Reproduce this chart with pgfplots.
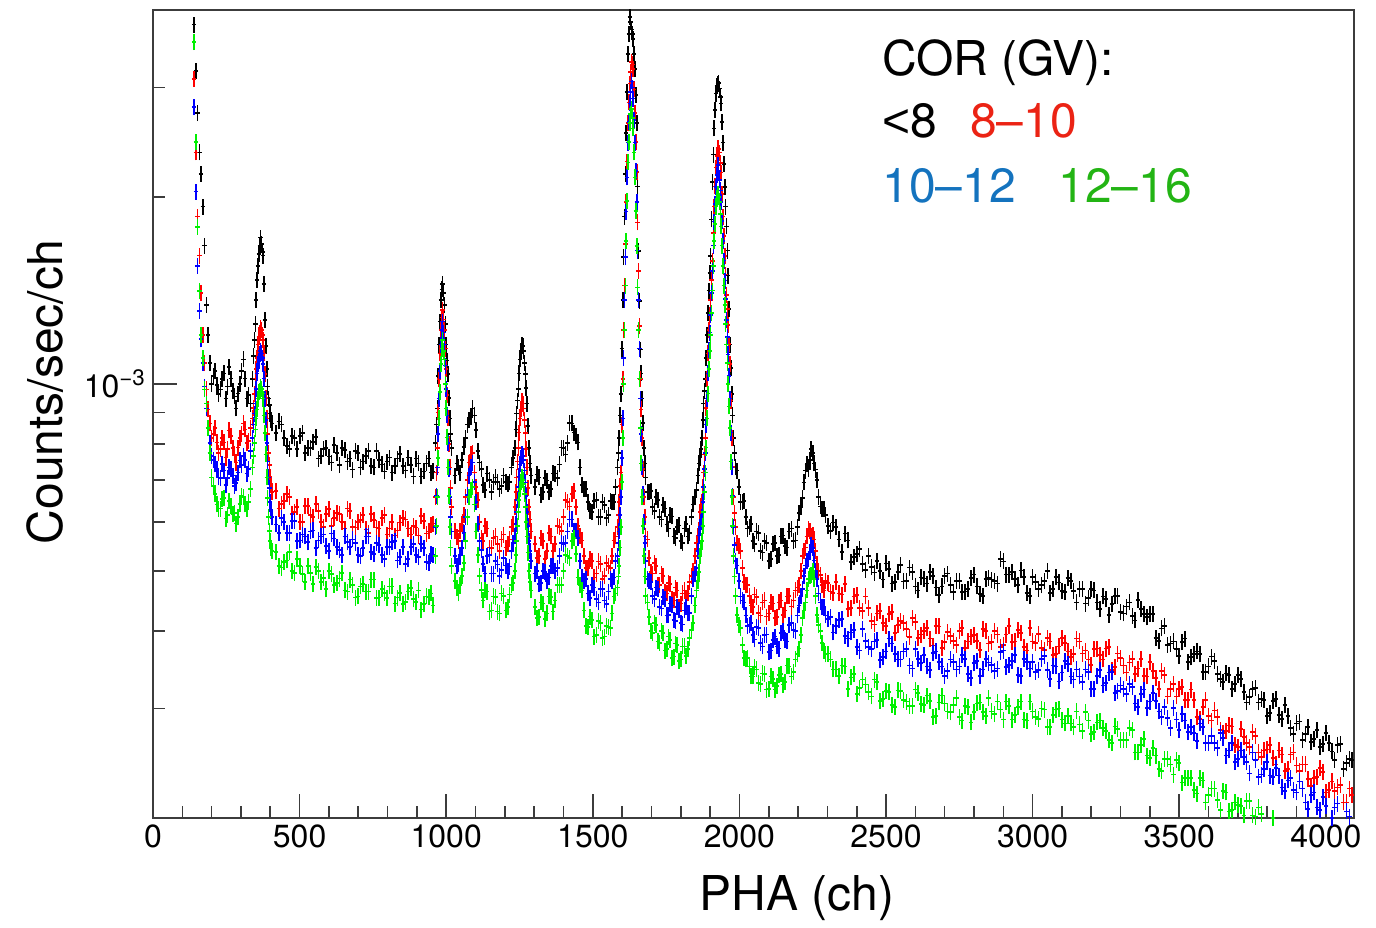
\documentclass[border=0pt]{standalone}
\usepackage{fontspec}
\setmainfont{TeX Gyre Heros}
\newfontfamily\libsans{Liberation Sans}
\usepackage{pgfplots}
\usepackage{pgfplotstable}
\pgfplotsset{compat=1.18}
\definecolor{legred}{RGB}{235,35,20}
\definecolor{legblue}{RGB}{20,115,190}
\definecolor{leggreen}{RGB}{35,180,20}
\definecolor{axisgray}{RGB}{60,60,60}
\definecolor{dgreen}{RGB}{0,240,0}
\pgfdeclareplotmark{ebar}{%
  \pgfpathmoveto{\pgfqpoint{0pt}{-\pgfplotmarksize}}%
  \pgfpathlineto{\pgfqpoint{0pt}{\pgfplotmarksize}}%
  \pgfpathmoveto{\pgfqpoint{-1.1pt}{0pt}}%
  \pgfpathlineto{\pgfqpoint{1.1pt}{0pt}}%
  \pgfusepathqstroke}
\pgfplotstableread{
ch k r b g
140 3.79e-3 3.10e-3 2.79e-3 3.55e-3
146 3.19e-3 2.36e-3 2.04e-3 2.45e-3
152 2.73e-3 1.86e-3 1.55e-3 1.79e-3
158 2.36e-3 1.61e-3 1.31e-3 1.41e-3
164 2.18e-3 1.40e-3 1.18e-3 1.20e-3
170 1.93e-3 1.20e-3 1.08e-3 1.10e-3
176 1.67e-3 1.08e-3 9.9e-4 9.8e-4
182 1.34e-3 9.8e-4 9.13e-4 9.30e-4
188 1.20e-3 9.1e-4 8.49e-4 8.49e-4
194 1.08e-3 8.64e-4 8.04e-4 7.75e-4
200 1.00e-3 8.18e-4 7.66e-4 7.07e-4
212 1.048e-3 8.49e-4 7.42e-4 6.65e-4
224 9.64e-4 7.75e-4 7.07e-4 6.30e-4
236 1.018e-3 8.18e-4 7.44e-4 6.53e-4
248 9.47e-4 7.61e-4 6.87e-4 6.07e-4
260 1.064e-3 8.42e-4 7.34e-4 6.48e-4
272 9.75e-4 7.89e-4 7.12e-4 6.18e-4
284 9.13e-4 7.47e-4 6.92e-4 5.96e-4
296 1.00e-3 8.18e-4 7.53e-4 6.41e-4
308 1.095e-3 8.64e-4 7.66e-4 6.57e-4
320 9.47e-4 8.04e-4 7.17e-4 6.30e-4
332 9.30e-4 8.49e-4 7.80e-4 6.77e-4
340 1.018e-3 8.80e-4 8.18e-4 7.34e-4
346 1.178e-3 9.64e-4 8.96e-4 8.04e-4
352 1.364e-3 1.056e-3 9.82e-4 8.80e-4
358 1.55e-3 1.157e-3 1.076e-3 9.47e-4
364 1.67e-3 1.21e-3 1.116e-3 9.75e-4
370 1.68e-3 1.222e-3 1.12e-3 9.82e-4
376 1.61e-3 1.178e-3 1.076e-3 9.47e-4
382 1.268e-3 1.037e-3 9.47e-4 8.33e-4
388 1.056e-3 8.80e-4 8.04e-4 7.07e-4
394 9.47e-4 7.75e-4 7.07e-4 6.11e-4
400 8.96e-4 7.07e-4 6.46e-4 5.58e-4
406 8.64e-4 6.70e-4 6.11e-4 5.38e-4
420 8.33e-4 6.72e-4 5.94e-4 5.36e-4
438 8.61e-4 6.41e-4 6.09e-4 5.06e-4
456 7.95e-4 6.65e-4 5.75e-4 5.20e-4
474 8.24e-4 6.18e-4 6.02e-4 5.00e-4
492 7.86e-4 6.34e-4 5.58e-4 5.22e-4
510 8.33e-4 6.00e-4 5.72e-4 4.94e-4
528 7.89e-4 6.36e-4 5.56e-4 5.09e-4
546 8.06e-4 6.11e-4 5.81e-4 4.76e-4
564 7.58e-4 6.24e-4 5.60e-4 5.00e-4
582 7.86e-4 5.89e-4 5.72e-4 4.87e-4
600 7.64e-4 6.29e-4 5.38e-4 5.00e-4
618 7.98e-4 6.09e-4 5.64e-4 4.75e-4
636 7.40e-4 6.18e-4 5.40e-4 4.86e-4
654 7.83e-4 5.85e-4 5.68e-4 4.65e-4
672 7.58e-4 6.24e-4 5.46e-4 4.84e-4
690 7.80e-4 5.87e-4 5.54e-4 4.53e-4
708 7.34e-4 6.04e-4 5.28e-4 4.72e-4
726 7.66e-4 5.83e-4 5.68e-4 4.63e-4
744 7.37e-4 6.18e-4 5.36e-4 4.84e-4
762 7.80e-4 5.87e-4 5.54e-4 4.52e-4
780 7.42e-4 6.09e-4 5.30e-4 4.67e-4
798 7.50e-4 5.72e-4 5.46e-4 4.52e-4
816 7.20e-4 6.00e-4 5.56e-4 4.72e-4
834 7.58e-4 5.81e-4 5.20e-4 4.53e-4
852 7.37e-4 6.09e-4 5.46e-4 4.42e-4
870 7.61e-4 5.85e-4 5.22e-4 4.63e-4
888 7.10e-4 5.91e-4 5.52e-4 4.50e-4
906 7.45e-4 5.70e-4 5.26e-4 4.65e-4
924 7.23e-4 6.02e-4 5.44e-4 4.42e-4
942 7.58e-4 5.79e-4 5.15e-4 4.54e-4
955 7.23e-4 5.96e-4 5.30e-4 4.40e-4
964 8.04e-4 6.57e-4 5.89e-4 5.28e-4
970 9.13e-4 7.89e-4 7.34e-4 6.57e-4
976 1.157e-3 1.018e-3 9.47e-4 8.80e-4
982 1.364e-3 1.222e-3 1.157e-3 1.076e-3
988 1.45e-3 1.315e-3 1.26e-3 1.178e-3
994 1.34e-3 1.222e-3 1.157e-3 1.095e-3
1000 1.157e-3 1.056e-3 9.82e-4 9.13e-4
1006 1.037e-3 8.80e-4 8.04e-4 7.34e-4
1012 8.80e-4 7.34e-4 6.57e-4 5.89e-4
1018 7.89e-4 6.34e-4 5.79e-4 5.09e-4
1030 7.12e-4 5.79e-4 5.28e-4 4.82e-4
1042 7.34e-4 5.58e-4 5.13e-4 4.60e-4
1054 7.55e-4 5.94e-4 5.44e-4 4.91e-4
1066 8.18e-4 6.57e-4 6.11e-4 5.58e-4
1078 8.74e-4 7.47e-4 7.12e-4 6.57e-4
1090 9.13e-4 7.75e-4 7.47e-4 6.82e-4
1102 8.43e-4 6.82e-4 6.46e-4 5.79e-4
1114 7.47e-4 6.00e-4 5.58e-4 4.91e-4
1126 6.87e-4 5.58e-4 5.13e-4 4.48e-4
1140 7.17e-4 5.85e-4 5.28e-4 4.63e-4
1154 6.70e-4 5.44e-4 4.95e-4 4.32e-4
1168 7.07e-4 5.68e-4 5.19e-4 4.54e-4
1182 6.77e-4 5.38e-4 4.91e-4 4.27e-4
1196 7.12e-4 5.72e-4 5.24e-4 4.56e-4
1210 6.90e-4 5.52e-4 5.00e-4 4.37e-4
1222 7.34e-4 5.89e-4 5.38e-4 4.74e-4
1234 7.89e-4 6.34e-4 5.68e-4 5.00e-4
1240 8.96e-4 7.07e-4 6.22e-4 5.58e-4
1246 9.82e-4 7.89e-4 6.82e-4 6.22e-4
1252 1.095e-3 8.80e-4 7.42e-4 6.77e-4
1258 1.157e-3 9.37e-4 7.70e-4 7.07e-4
1264 1.13e-3 9.13e-4 7.55e-4 6.90e-4
1270 1.037e-3 8.33e-4 6.94e-4 6.34e-4
1276 9.30e-4 7.34e-4 6.22e-4 5.68e-4
1282 7.89e-4 6.34e-4 5.58e-4 5.00e-4
1290 7.12e-4 5.79e-4 5.19e-4 4.65e-4
1302 6.82e-4 5.52e-4 4.95e-4 4.37e-4
1316 7.07e-4 5.28e-4 4.76e-4 4.21e-4
1330 6.70e-4 5.58e-4 5.00e-4 4.43e-4
1344 6.99e-4 5.38e-4 4.82e-4 4.27e-4
1358 6.77e-4 5.68e-4 5.09e-4 4.54e-4
1372 7.17e-4 5.52e-4 5.00e-4 4.48e-4
1386 7.42e-4 5.89e-4 5.28e-4 4.74e-4
1400 7.89e-4 6.11e-4 5.52e-4 5.00e-4
1414 8.04e-4 6.46e-4 5.79e-4 5.28e-4
1428 8.64e-4 6.65e-4 6.05e-4 5.58e-4
1442 8.24e-4 6.34e-4 5.79e-4 5.32e-4
1456 7.34e-4 5.68e-4 5.19e-4 4.74e-4
1470 6.77e-4 5.28e-4 4.82e-4 4.32e-4
1484 6.46e-4 5.05e-4 4.60e-4 4.06e-4
1498 6.22e-4 5.19e-4 4.74e-4 4.17e-4
1512 6.50e-4 4.95e-4 4.50e-4 3.94e-4
1526 6.11e-4 5.13e-4 4.67e-4 4.12e-4
1540 6.39e-4 4.91e-4 4.48e-4 3.92e-4
1554 6.15e-4 5.09e-4 4.63e-4 4.06e-4
1566 6.46e-4 5.28e-4 4.82e-4 4.27e-4
1578 6.82e-4 5.68e-4 5.19e-4 4.60e-4
1584 7.34e-4 5.89e-4 5.28e-4 4.70e-4
1590 8.18e-4 6.46e-4 5.79e-4 5.09e-4
1596 9.64e-4 7.20e-4 6.57e-4 5.89e-4
1602 1.364e-3 1.018e-3 8.80e-4 8.18e-4
1608 1.86e-3 1.44e-3 1.364e-3 1.222e-3
1614 2.537e-3 1.964e-3 1.894e-3 1.697e-3
1620 3.397e-3 2.631e-3 2.446e-3 2.273e-3
1626 3.90e-3 3.045e-3 2.83e-3 2.631e-3
1632 3.72e-3 3.30e-3 3.07e-3 2.77e-3
1638 3.59e-3 3.216e-3 2.88e-3 2.58e-3
1644 3.216e-3 2.729e-3 2.446e-3 2.15e-3
1650 2.631e-3 2.192e-3 1.964e-3 1.667e-3
1656 1.637e-3 1.521e-3 1.364e-3 1.222e-3
1662 1.136e-3 1.018e-3 9.47e-4 8.49e-4
1668 9.47e-4 8.18e-4 7.34e-4 6.57e-4
1674 7.89e-4 6.57e-4 6.00e-4 5.28e-4
1680 7.07e-4 5.68e-4 5.19e-4 4.56e-4
1692 6.70e-4 5.24e-4 4.82e-4 4.21e-4
1704 6.34e-4 4.95e-4 4.56e-4 3.97e-4
1716 6.57e-4 5.09e-4 4.70e-4 4.09e-4
1728 6.11e-4 4.74e-4 4.37e-4 3.83e-4
1740 6.39e-4 4.91e-4 4.54e-4 3.97e-4
1752 5.94e-4 4.60e-4 4.24e-4 3.74e-4
1764 6.15e-4 4.76e-4 4.43e-4 3.87e-4
1776 5.68e-4 4.48e-4 4.17e-4 3.64e-4
1788 5.89e-4 4.65e-4 4.37e-4 3.80e-4
1800 5.58e-4 4.43e-4 4.12e-4 3.60e-4
1812 5.85e-4 4.65e-4 4.32e-4 3.78e-4
1824 5.68e-4 4.60e-4 4.27e-4 3.74e-4
1836 6.11e-4 4.91e-4 4.56e-4 4.02e-4
1848 6.57e-4 5.28e-4 4.95e-4 4.40e-4
1858 7.12e-4 5.68e-4 5.38e-4 4.82e-4
1866 7.61e-4 6.22e-4 5.89e-4 5.28e-4
1872 8.18e-4 6.46e-4 6.11e-4 5.58e-4
1878 9.30e-4 7.20e-4 6.82e-4 6.22e-4
1884 1.018e-3 8.18e-4 7.75e-4 7.20e-4
1890 1.20e-3 1.018e-3 9.47e-4 8.80e-4
1896 1.414e-3 1.222e-3 1.136e-3 1.056e-3
1902 1.607e-3 1.364e-3 1.29e-3 1.20e-3
1908 2.113e-3 1.578e-3 1.521e-3 1.414e-3
1914 2.58e-3 1.93e-3 1.826e-3 1.697e-3
1920 2.935e-3 2.23e-3 2.075e-3 1.93e-3
1926 3.045e-3 2.40e-3 2.25e-3 2.02e-3
1932 2.99e-3 2.358e-3 2.13e-3 1.964e-3
1938 2.83e-3 2.19e-3 1.964e-3 1.793e-3
1944 2.446e-3 1.86e-3 1.697e-3 1.55e-3
1950 2.075e-3 1.607e-3 1.467e-3 1.34e-3
1956 1.793e-3 1.39e-3 1.268e-3 1.157e-3
1962 1.494e-3 1.245e-3 1.116e-3 1.00e-3
1968 1.157e-3 1.076e-3 9.47e-4 8.49e-4
1974 9.64e-4 8.18e-4 7.34e-4 6.57e-4
1980 8.18e-4 6.57e-4 5.89e-4 5.28e-4
1986 7.34e-4 5.89e-4 5.19e-4 4.56e-4
1998 6.82e-4 5.48e-4 4.82e-4 4.09e-4
2010 6.46e-4 5.05e-4 4.48e-4 3.80e-4
2022 6.11e-4 4.74e-4 4.24e-4 3.60e-4
2034 5.89e-4 4.56e-4 4.09e-4 3.51e-4
2046 5.58e-4 4.37e-4 3.94e-4 3.38e-4
2058 5.79e-4 4.54e-4 4.06e-4 3.47e-4
2072 5.38e-4 4.24e-4 3.83e-4 3.29e-4
2086 5.58e-4 4.48e-4 3.94e-4 3.41e-4
2100 5.19e-4 4.27e-4 3.70e-4 3.23e-4
2114 5.52e-4 4.43e-4 3.87e-4 3.35e-4
2128 5.28e-4 4.21e-4 3.78e-4 3.26e-4
2142 5.68e-4 4.48e-4 3.97e-4 3.41e-4
2156 5.48e-4 4.32e-4 3.87e-4 3.31e-4
2170 5.79e-4 4.56e-4 4.09e-4 3.51e-4
2184 5.58e-4 4.48e-4 4.02e-4 3.44e-4
2198 5.89e-4 4.70e-4 4.24e-4 3.67e-4
2210 6.34e-4 5.00e-4 4.56e-4 3.94e-4
2220 6.94e-4 5.38e-4 4.91e-4 4.32e-4
2230 7.42e-4 5.68e-4 5.19e-4 4.65e-4
2240 7.55e-4 5.79e-4 5.36e-4 4.91e-4
2250 7.75e-4 5.72e-4 5.44e-4 5.00e-4
2260 7.28e-4 5.38e-4 5.00e-4 4.56e-4
2270 6.57e-4 5.00e-4 4.60e-4 4.09e-4
2282 6.29e-4 4.74e-4 4.37e-4 3.83e-4
2294 6.15e-4 4.82e-4 4.24e-4 3.67e-4
2310 5.80e-4 4.63e-4 4.21e-4 3.60e-4
2330 5.89e-4 4.80e-4 4.08e-4 3.47e-4
2350 5.36e-4 4.58e-4 4.18e-4 3.52e-4
2370 5.60e-4 4.34e-4 3.89e-4 3.23e-4
2390 5.26e-4 4.55e-4 4.02e-4 3.41e-4
2410 5.42e-4 4.36e-4 3.72e-4 3.24e-4
2430 5.02e-4 4.55e-4 3.86e-4 3.28e-4
2450 5.07e-4 4.15e-4 3.74e-4 3.14e-4
2470 5.19e-4 4.27e-4 3.87e-4 3.31e-4
2490 4.84e-4 4.12e-4 3.63e-4 3.11e-4
2510 5.04e-4 4.26e-4 3.89e-4 3.19e-4
2530 4.80e-4 3.97e-4 3.67e-4 3.02e-4
2550 5.11e-4 4.15e-4 3.60e-4 3.20e-4
2570 4.82e-4 4.03e-4 3.74e-4 3.08e-4
2590 4.98e-4 4.20e-4 3.48e-4 3.03e-4
2610 4.65e-4 3.90e-4 3.61e-4 3.18e-4
2630 4.86e-4 4.00e-4 3.66e-4 3.04e-4
2650 4.98e-4 3.89e-4 3.46e-4 3.09e-4
2670 4.70e-4 4.08e-4 3.71e-4 2.92e-4
2690 4.72e-4 3.76e-4 3.51e-4 3.15e-4
2710 4.95e-4 3.99e-4 3.45e-4 2.97e-4
2730 4.62e-4 3.86e-4 3.57e-4 3.04e-4
2750 4.82e-4 4.00e-4 3.51e-4 2.91e-4
2770 4.63e-4 3.76e-4 3.61e-4 3.03e-4
2790 4.87e-4 3.92e-4 3.36e-4 2.85e-4
2810 4.72e-4 3.86e-4 3.58e-4 3.06e-4
2830 4.56e-4 4.03e-4 3.47e-4 2.96e-4
2850 4.87e-4 3.82e-4 3.56e-4 3.12e-4
2870 4.82e-4 4.00e-4 3.45e-4 2.94e-4
2890 5.22e-4 3.77e-4 3.70e-4 2.99e-4
2910 4.93e-4 3.95e-4 3.50e-4 3.08e-4
2930 4.98e-4 3.84e-4 3.58e-4 2.88e-4
2950 4.74e-4 4.02e-4 3.40e-4 3.02e-4
2970 4.89e-4 3.77e-4 3.61e-4 2.88e-4
2990 4.56e-4 4.05e-4 3.48e-4 3.08e-4
3010 4.80e-4 3.83e-4 3.44e-4 2.91e-4
3030 4.74e-4 3.76e-4 3.61e-4 3.00e-4
3050 5.00e-4 3.90e-4 3.46e-4 2.80e-4
3070 4.68e-4 3.66e-4 3.52e-4 2.93e-4
3090 4.79e-4 3.78e-4 3.32e-4 3.00e-4
3110 4.62e-4 3.83e-4 3.58e-4 2.84e-4
3130 4.82e-4 3.63e-4 3.38e-4 2.84e-4
3150 4.45e-4 3.89e-4 3.47e-4 2.97e-4
3170 4.68e-4 3.68e-4 3.31e-4 2.76e-4
3190 4.52e-4 3.60e-4 3.44e-4 2.87e-4
3210 4.65e-4 3.74e-4 3.23e-4 2.75e-4
3230 4.34e-4 3.66e-4 3.46e-4 2.87e-4
3250 4.50e-4 3.75e-4 3.30e-4 2.76e-4
3270 4.42e-4 3.46e-4 3.44e-4 2.64e-4
3290 4.56e-4 3.68e-4 3.20e-4 2.78e-4
3310 4.27e-4 3.52e-4 3.23e-4 2.67e-4
3330 4.45e-4 3.56e-4 3.29e-4 2.79e-4
3350 4.16e-4 3.41e-4 3.06e-4 2.55e-4
3370 4.34e-4 3.61e-4 3.17e-4 2.62e-4
3390 4.21e-4 3.38e-4 3.01e-4 2.52e-4
3410 4.26e-4 3.45e-4 3.18e-4 2.59e-4
3430 3.86e-4 3.23e-4 2.97e-4 2.40e-4
3450 4.08e-4 3.40e-4 3.02e-4 2.49e-4
3470 3.82e-4 3.23e-4 2.79e-4 2.44e-4
3490 3.74e-4 3.14e-4 2.88e-4 2.48e-4
3510 3.84e-4 3.25e-4 2.94e-4 2.28e-4
3530 3.57e-4 3.10e-4 2.75e-4 2.32e-4
3550 3.67e-4 3.10e-4 2.74e-4 2.22e-4
3570 3.67e-4 2.89e-4 2.84e-4 2.32e-4
3590 3.44e-4 3.10e-4 2.64e-4 2.12e-4
3610 3.64e-4 2.87e-4 2.71e-4 2.23e-4
3630 3.41e-4 2.91e-4 2.59e-4 2.14e-4
3650 3.31e-4 2.74e-4 2.69e-4 2.21e-4
3670 3.40e-4 2.82e-4 2.57e-4 2.05e-4
3690 3.29e-4 2.62e-4 2.46e-4 2.12e-4
3710 3.35e-4 2.78e-4 2.57e-4 2.09e-4
3730 3.07e-4 2.64e-4 2.46e-4 2.13e-4
3750 3.23e-4 2.75e-4 2.55e-4 2.02e-4
3770 3.07e-4 2.55e-4 2.33e-4 2.08e-4
3790 3.10e-4 2.57e-4 2.40e-4 1.96e-4
3810 2.95e-4 2.62e-4 2.34e-4 1.94e-4
3830 3.11e-4 2.44e-4 2.41e-4 1.91e-4
3850 2.89e-4 2.53e-4 2.24e-4 1.97e-4
3870 2.92e-4 2.40e-4 2.30e-4 1.87e-4
3890 2.73e-4 2.55e-4 2.22e-4 1.94e-4
3910 2.86e-4 2.38e-4 2.29e-4 1.88e-4
3930 2.73e-4 2.44e-4 2.12e-4 1.78e-4
3950 2.65e-4 2.25e-4 2.18e-4 1.89e-4
3970 2.77e-4 2.33e-4 2.08e-4 1.75e-4
3990 2.63e-4 2.37e-4 2.16e-4 1.77e-4
4010 2.64e-4 2.22e-4 1.97e-4 1.76e-4
4030 2.48e-4 2.21e-4 2.08e-4 1.67e-4
4050 2.63e-4 2.26e-4 1.99e-4 1.75e-4
4070 2.45e-4 2.12e-4 2.05e-4 1.65e-4
4090 2.48e-4 2.18e-4 1.90e-4 1.61e-4
}\spec
\pgfplotstableread{
ch k r b g
206 1.03e-3 8.30e-4 7.55e-4 6.85e-4
218 9.95e-4 8.05e-4 7.30e-4 6.40e-4
230 9.80e-4 7.85e-4 7.05e-4 6.30e-4
242 1.04e-3 8.05e-4 7.25e-4 6.55e-4
254 9.90e-4 7.85e-4 7.05e-4 6.15e-4
266 1.02e-3 8.25e-4 7.30e-4 6.35e-4
278 9.55e-4 7.70e-4 6.85e-4 6.20e-4
290 9.65e-4 7.90e-4 7.20e-4 6.10e-4
302 1.05e-3 8.30e-4 7.40e-4 6.60e-4
314 1.02e-3 8.45e-4 7.55e-4 6.40e-4
326 9.60e-4 8.10e-4 7.30e-4 6.45e-4
343 1.11e-3 9.15e-4 8.60e-4 7.65e-4
349 1.25e-3 1.02e-3 9.30e-4 8.45e-4
355 1.47e-3 1.10e-3 1.04e-3 9.10e-4
361 1.62e-3 1.19e-3 1.09e-3 9.70e-4
367 1.72e-3 1.23e-3 1.13e-3 9.90e-4
373 1.63e-3 1.20e-3 1.10e-3 9.65e-4
379 1.45e-3 1.12e-3 1.02e-3 8.90e-4
385 1.15e-3 9.50e-4 8.75e-4 7.70e-4
391 9.90e-4 8.30e-4 7.50e-4 6.55e-4
397 9.25e-4 7.40e-4 6.80e-4 5.80e-4
403 8.75e-4 6.90e-4 6.25e-4 5.45e-4
429 8.70e-4 6.30e-4 5.76e-4 5.09e-4
447 8.18e-4 6.48e-4 6.00e-4 5.17e-4
465 7.86e-4 6.57e-4 5.76e-4 5.36e-4
483 8.18e-4 6.22e-4 6.02e-4 4.96e-4
501 8.24e-4 6.00e-4 5.60e-4 5.09e-4
519 7.75e-4 6.36e-4 5.68e-4 4.80e-4
537 7.89e-4 6.15e-4 5.79e-4 4.96e-4
555 8.21e-4 6.41e-4 5.44e-4 5.07e-4
573 7.66e-4 6.00e-4 5.68e-4 4.80e-4
591 7.89e-4 6.18e-4 5.48e-4 4.67e-4
609 7.47e-4 5.91e-4 5.74e-4 4.94e-4
627 7.75e-4 6.20e-4 5.46e-4 4.78e-4
645 7.89e-4 6.00e-4 5.30e-4 4.96e-4
663 7.50e-4 6.30e-4 5.56e-4 4.63e-4
681 7.28e-4 5.89e-4 5.62e-4 4.75e-4
699 7.75e-4 6.00e-4 5.30e-4 4.55e-4
717 7.50e-4 6.15e-4 5.44e-4 4.76e-4
735 7.80e-4 5.76e-4 5.68e-4 4.63e-4
753 7.34e-4 6.04e-4 5.32e-4 4.84e-4
771 7.55e-4 5.85e-4 5.50e-4 4.53e-4
789 7.23e-4 6.15e-4 5.22e-4 4.61e-4
807 7.61e-4 5.85e-4 5.46e-4 4.72e-4
825 7.37e-4 5.70e-4 5.58e-4 4.43e-4
843 7.72e-4 5.98e-4 5.26e-4 4.61e-4
861 7.26e-4 6.05e-4 5.13e-4 4.46e-4
879 7.40e-4 5.72e-4 5.46e-4 4.69e-4
897 7.58e-4 5.87e-4 5.30e-4 4.46e-4
915 7.10e-4 6.13e-4 5.52e-4 4.33e-4
933 7.45e-4 5.74e-4 5.17e-4 4.55e-4
949 7.20e-4 5.93e-4 5.32e-4 4.60e-4
967 8.60e-4 7.20e-4 6.60e-4 5.90e-4
973 1.03e-3 9.00e-4 8.30e-4 7.60e-4
979 1.26e-3 1.12e-3 1.05e-3 9.70e-4
985 1.42e-3 1.28e-3 1.22e-3 1.14e-3
991 1.40e-3 1.27e-3 1.21e-3 1.13e-3
997 1.25e-3 1.14e-3 1.07e-3 1.00e-3
1003 1.09e-3 9.60e-4 8.90e-4 8.20e-4
1009 9.50e-4 8.00e-4 7.30e-4 6.60e-4
1015 8.30e-4 6.80e-4 6.10e-4 5.45e-4
1036 7.45e-4 5.66e-4 5.09e-4 4.70e-4
1048 7.20e-4 5.80e-4 5.30e-4 4.74e-4
1060 7.92e-4 6.15e-4 5.75e-4 5.15e-4
1072 8.60e-4 7.00e-4 6.62e-4 6.10e-4
1084 8.85e-4 7.70e-4 7.35e-4 6.75e-4
1096 8.90e-4 7.20e-4 6.95e-4 6.40e-4
1108 7.80e-4 6.50e-4 5.95e-4 5.30e-4
1120 7.30e-4 5.65e-4 5.40e-4 4.66e-4
1133 6.75e-4 5.90e-4 4.95e-4 4.65e-4
1147 7.00e-4 5.45e-4 5.30e-4 4.30e-4
1161 6.95e-4 5.65e-4 4.95e-4 4.55e-4
1175 6.95e-4 5.52e-4 5.12e-4 4.30e-4
1189 6.85e-4 5.62e-4 5.02e-4 4.60e-4
1203 6.95e-4 5.45e-4 5.10e-4 4.32e-4
1216 6.95e-4 5.62e-4 5.08e-4 4.58e-4
1228 7.60e-4 5.95e-4 5.55e-4 4.78e-4
1237 8.45e-4 6.70e-4 5.95e-4 5.30e-4
1243 9.40e-4 7.50e-4 6.50e-4 5.90e-4
1249 1.04e-3 8.35e-4 7.10e-4 6.50e-4
1255 1.13e-3 9.10e-4 7.60e-4 6.95e-4
1261 1.15e-3 9.30e-4 7.65e-4 7.00e-4
1267 1.08e-3 8.75e-4 7.25e-4 6.65e-4
1273 9.85e-4 7.85e-4 6.60e-4 6.00e-4
1279 8.55e-4 6.80e-4 5.90e-4 5.35e-4
1286 7.45e-4 6.05e-4 5.38e-4 4.80e-4
1309 7.15e-4 5.25e-4 5.00e-4 4.20e-4
1323 6.62e-4 5.65e-4 4.78e-4 4.45e-4
1337 7.05e-4 5.22e-4 4.98e-4 4.18e-4
1351 6.70e-4 5.75e-4 4.88e-4 4.55e-4
1365 7.18e-4 5.38e-4 5.10e-4 4.30e-4
1379 7.05e-4 5.90e-4 5.05e-4 4.75e-4
1393 7.90e-4 5.80e-4 5.55e-4 4.75e-4
1407 7.70e-4 6.50e-4 5.55e-4 5.30e-4
1421 8.65e-4 6.35e-4 6.05e-4 5.25e-4
1435 8.35e-4 6.72e-4 5.80e-4 5.65e-4
1449 8.05e-4 5.90e-4 5.65e-4 4.88e-4
1463 6.88e-4 5.60e-4 4.88e-4 4.65e-4
1477 6.78e-4 5.05e-4 4.85e-4 4.08e-4
1491 6.25e-4 5.22e-4 4.52e-4 4.22e-4
1505 6.48e-4 4.88e-4 4.70e-4 3.92e-4
1519 6.10e-4 5.18e-4 4.45e-4 4.15e-4
1533 6.45e-4 4.85e-4 4.68e-4 3.90e-4
1547 6.08e-4 5.15e-4 4.42e-4 4.08e-4
1560 6.48e-4 5.05e-4 4.85e-4 4.05e-4
1572 6.45e-4 5.60e-4 4.88e-4 4.55e-4
1587 7.75e-4 6.15e-4 5.55e-4 4.90e-4
1593 8.90e-4 6.85e-4 6.15e-4 5.45e-4
1599 1.14e-3 8.60e-4 7.60e-4 6.95e-4
1605 1.60e-3 1.22e-3 1.10e-3 1.00e-3
1611 2.18e-3 1.68e-3 1.60e-3 1.44e-3
1617 2.95e-3 2.28e-3 2.15e-3 1.97e-3
1623 3.66e-3 2.84e-3 2.64e-3 2.45e-3
1629 3.83e-3 3.18e-3 2.95e-3 2.72e-3
1635 3.66e-3 3.27e-3 3.00e-3 2.68e-3
1641 3.40e-3 2.98e-3 2.66e-3 2.36e-3
1647 2.92e-3 2.45e-3 2.20e-3 1.90e-3
1653 2.08e-3 1.82e-3 1.64e-3 1.43e-3
1659 1.36e-3 1.24e-3 1.14e-3 1.02e-3
1665 1.04e-3 9.10e-4 8.30e-4 7.45e-4
1671 8.65e-4 7.30e-4 6.65e-4 5.90e-4
1677 7.45e-4 6.10e-4 5.55e-4 4.90e-4
1686 6.70e-4 5.62e-4 4.85e-4 4.45e-4
1698 6.72e-4 4.98e-4 4.80e-4 4.00e-4
1710 6.25e-4 5.15e-4 4.50e-4 4.12e-4
1722 6.50e-4 4.75e-4 4.68e-4 3.85e-4
1734 6.05e-4 4.95e-4 4.35e-4 4.00e-4
1746 6.30e-4 4.62e-4 4.50e-4 3.72e-4
1758 5.85e-4 4.78e-4 4.25e-4 3.92e-4
1770 6.12e-4 4.50e-4 4.40e-4 3.62e-4
1782 5.65e-4 4.70e-4 4.15e-4 3.82e-4
1794 5.92e-4 4.38e-4 4.32e-4 3.58e-4
1806 5.55e-4 4.60e-4 4.10e-4 3.78e-4
1818 5.95e-4 4.52e-4 4.38e-4 3.65e-4
1830 5.75e-4 4.80e-4 4.28e-4 3.90e-4
1842 6.40e-4 5.00e-4 4.85e-4 4.12e-4
1853 6.75e-4 5.55e-4 5.05e-4 4.65e-4
1862 7.45e-4 5.82e-4 5.70e-4 4.98e-4
1869 7.85e-4 6.35e-4 6.00e-4 5.42e-4
1875 8.75e-4 6.82e-4 6.45e-4 5.90e-4
1881 9.75e-4 7.70e-4 7.30e-4 6.70e-4
1887 1.10e-3 9.15e-4 8.60e-4 7.90e-4
1893 1.30e-3 1.12e-3 1.04e-3 9.65e-4
1899 1.51e-3 1.29e-3 1.21e-3 1.13e-3
1905 1.84e-3 1.47e-3 1.40e-3 1.30e-3
1911 2.34e-3 1.75e-3 1.67e-3 1.55e-3
1917 2.76e-3 2.08e-3 1.95e-3 1.81e-3
1923 3.02e-3 2.33e-3 2.17e-3 1.99e-3
1929 3.05e-3 2.39e-3 2.20e-3 2.00e-3
1935 2.90e-3 2.27e-3 2.05e-3 1.88e-3
1941 2.64e-3 2.02e-3 1.83e-3 1.67e-3
1947 2.26e-3 1.73e-3 1.58e-3 1.44e-3
1953 1.93e-3 1.50e-3 1.37e-3 1.25e-3
1959 1.64e-3 1.32e-3 1.19e-3 1.08e-3
1965 1.32e-3 1.16e-3 1.03e-3 9.20e-4
1971 1.06e-3 9.40e-4 8.35e-4 7.50e-4
1977 8.90e-4 7.35e-4 6.60e-4 5.90e-4
1983 7.75e-4 6.20e-4 5.50e-4 4.90e-4
1992 7.25e-4 5.55e-4 5.10e-4 4.25e-4
2004 6.45e-4 5.38e-4 4.55e-4 4.05e-4
2016 6.48e-4 4.80e-4 4.45e-4 3.62e-4
2028 5.85e-4 4.75e-4 4.08e-4 3.62e-4
2040 5.95e-4 4.40e-4 4.12e-4 3.38e-4
2052 5.52e-4 4.58e-4 3.88e-4 3.50e-4
2065 5.75e-4 4.28e-4 4.05e-4 3.30e-4
2079 5.35e-4 4.45e-4 3.78e-4 3.42e-4
2093 5.55e-4 4.22e-4 3.95e-4 3.22e-4
2107 5.22e-4 4.45e-4 3.72e-4 3.38e-4
2121 5.55e-4 4.20e-4 3.92e-4 3.22e-4
2135 5.30e-4 4.45e-4 3.75e-4 3.40e-4
2149 5.70e-4 4.25e-4 4.00e-4 3.28e-4
2163 5.45e-4 4.55e-4 3.85e-4 3.52e-4
2177 5.85e-4 4.38e-4 4.12e-4 3.38e-4
2191 5.60e-4 4.65e-4 4.00e-4 3.60e-4
2204 6.20e-4 4.75e-4 4.40e-4 3.75e-4
2215 6.55e-4 5.28e-4 4.68e-4 4.20e-4
2225 7.25e-4 5.45e-4 5.10e-4 4.45e-4
2235 7.30e-4 5.85e-4 5.22e-4 4.85e-4
2245 7.85e-4 5.70e-4 5.50e-4 4.92e-4
2255 7.45e-4 5.62e-4 5.20e-4 4.85e-4
2265 7.00e-4 5.12e-4 4.85e-4 4.25e-4
2276 6.35e-4 4.92e-4 4.45e-4 4.00e-4
2288 6.30e-4 4.65e-4 4.38e-4 3.72e-4
2302 5.90e-4 4.78e-4 4.18e-4 3.68e-4
2320 5.98e-4 4.61e-4 3.98e-4 3.47e-4
2340 5.62e-4 4.60e-4 4.17e-4 3.39e-4
2360 5.74e-4 4.76e-4 3.93e-4 3.51e-4
2380 5.17e-4 4.36e-4 3.98e-4 3.37e-4
2400 5.32e-4 4.57e-4 3.77e-4 3.17e-4
2420 5.13e-4 4.31e-4 4.03e-4 3.34e-4
2440 5.28e-4 4.36e-4 3.77e-4 3.19e-4
2460 4.97e-4 4.10e-4 3.85e-4 3.34e-4
2480 5.00e-4 4.31e-4 3.59e-4 3.09e-4
2500 5.14e-4 4.08e-4 3.71e-4 3.20e-4
2520 4.77e-4 4.29e-4 3.82e-4 3.04e-4
2540 4.98e-4 4.09e-4 3.60e-4 3.21e-4
2560 4.81e-4 4.12e-4 3.71e-4 3.10e-4
2580 5.06e-4 3.91e-4 3.52e-4 3.03e-4
2600 4.72e-4 4.14e-4 3.74e-4 3.22e-4
2620 4.88e-4 3.95e-4 3.55e-4 3.05e-4
2640 4.77e-4 4.05e-4 3.51e-4 3.15e-4
2660 4.91e-4 3.79e-4 3.69e-4 2.91e-4
2680 4.57e-4 4.07e-4 3.57e-4 3.07e-4
2700 4.91e-4 3.84e-4 3.39e-4 3.06e-4
2720 4.74e-4 3.93e-4 3.60e-4 2.96e-4
2740 4.82e-4 3.80e-4 3.47e-4 3.12e-4
2760 4.62e-4 4.05e-4 3.66e-4 2.87e-4
2780 4.68e-4 3.85e-4 3.41e-4 3.02e-4
2800 4.93e-4 3.94e-4 3.55e-4 2.96e-4
2820 4.59e-4 3.73e-4 3.39e-4 3.07e-4
2840 4.85e-4 4.00e-4 3.61e-4 2.92e-4
2860 4.84e-4 3.84e-4 3.53e-4 2.97e-4
2880 4.77e-4 3.95e-4 3.48e-4 3.08e-4
2900 5.18e-4 3.80e-4 3.72e-4 2.88e-4
2920 4.93e-4 4.08e-4 3.53e-4 3.03e-4
2940 4.85e-4 3.85e-4 3.66e-4 2.93e-4
2960 5.01e-4 3.97e-4 3.39e-4 3.08e-4
2980 4.61e-4 3.72e-4 3.57e-4 2.87e-4
3000 4.89e-4 3.85e-4 3.57e-4 2.97e-4
3020 4.68e-4 3.96e-4 3.46e-4 2.89e-4
3040 4.82e-4 3.73e-4 3.65e-4 2.99e-4
3060 4.61e-4 3.85e-4 3.35e-4 2.80e-4
3080 4.89e-4 3.67e-4 3.51e-4 2.99e-4
3100 4.64e-4 3.90e-4 3.43e-4 2.88e-4
3120 4.87e-4 3.71e-4 3.54e-4 2.92e-4
3140 4.64e-4 3.67e-4 3.34e-4 2.80e-4
3160 4.67e-4 3.85e-4 3.38e-4 2.83e-4
3180 4.43e-4 3.72e-4 3.47e-4 2.96e-4
3200 4.67e-4 3.53e-4 3.23e-4 2.73e-4
3220 4.45e-4 3.75e-4 3.39e-4 2.85e-4
3240 4.55e-4 3.60e-4 3.27e-4 2.79e-4
3260 4.25e-4 3.77e-4 3.43e-4 2.67e-4
3280 4.56e-4 3.50e-4 3.18e-4 2.81e-4
3300 4.29e-4 3.62e-4 3.27e-4 2.67e-4
3320 4.38e-4 3.43e-4 3.17e-4 2.67e-4
3340 4.23e-4 3.61e-4 3.25e-4 2.77e-4
3360 4.49e-4 3.48e-4 3.02e-4 2.55e-4
3380 4.26e-4 3.39e-4 3.22e-4 2.68e-4
3400 4.26e-4 3.57e-4 3.08e-4 2.50e-4
3420 3.90e-4 3.36e-4 3.09e-4 2.52e-4
3440 4.04e-4 3.45e-4 2.91e-4 2.38e-4
3460 3.80e-4 3.14e-4 2.90e-4 2.49e-4
3480 3.85e-4 3.29e-4 3.01e-4 2.35e-4
3500 3.65e-4 3.23e-4 2.77e-4 2.45e-4
3520 3.89e-4 3.10e-4 2.87e-4 2.32e-4
3540 3.63e-4 3.22e-4 2.80e-4 2.32e-4
3560 3.71e-4 2.91e-4 2.66e-4 2.19e-4
3580 3.44e-4 3.02e-4 2.80e-4 2.30e-4
3600 3.51e-4 2.92e-4 2.64e-4 2.18e-4
3620 3.58e-4 2.98e-4 2.64e-4 2.23e-4
3640 3.35e-4 2.77e-4 2.74e-4 2.06e-4
3660 3.42e-4 2.76e-4 2.52e-4 2.20e-4
3680 3.23e-4 2.81e-4 2.64e-4 2.06e-4
3700 3.40e-4 2.60e-4 2.49e-4 2.10e-4
3720 3.19e-4 2.70e-4 2.51e-4 2.02e-4
3740 3.13e-4 2.60e-4 2.36e-4 2.13e-4
3760 3.24e-4 2.71e-4 2.48e-4 2.01e-4
3780 3.11e-4 2.51e-4 2.35e-4 2.03e-4
3800 2.92e-4 2.58e-4 2.46e-4 1.90e-4
3820 3.09e-4 2.50e-4 2.33e-4 2.00e-4
3840 2.93e-4 2.57e-4 2.34e-4 1.89e-4
3860 3.04e-4 2.38e-4 2.21e-4 1.91e-4
3880 2.79e-4 2.53e-4 2.32e-4 1.82e-4
3900 2.84e-4 2.43e-4 2.20e-4 1.93e-4
3920 2.67e-4 2.44e-4 2.23e-4 1.81e-4
3940 2.80e-4 2.31e-4 2.07e-4 1.84e-4
3960 2.68e-4 2.32e-4 2.20e-4 1.71e-4
3980 2.60e-4 2.41e-4 2.06e-4 1.75e-4
4000 2.74e-4 2.20e-4 2.09e-4 1.78e-4
4020 2.56e-4 2.29e-4 2.00e-4 1.67e-4
4040 2.62e-4 2.24e-4 2.11e-4 1.71e-4
4060 2.40e-4 2.12e-4 1.99e-4 1.62e-4
4080 2.49e-4 2.23e-4 2.01e-4 1.71e-4
}\specb
\pgfplotsset{errpts/.style={only marks, mark=ebar, mark size=4pt, color=#1,
  mark options={line width=0.8pt}}}
\begin{document}
\begin{tikzpicture}
\begin{axis}[name=ax, scale only axis, width=600.5pt, height=404pt,
  xmin=0, xmax=4096, ymode=log, ymin=2e-4, ymax=4e-3,
  axis line style={axisgray, line width=1pt},
  xtick={0,500,...,4000}, minor xtick={100,200,...,4000},
  ytick={1e-3}, yticklabels={10\textsuperscript{−3}},
  minor ytick={2e-4,3e-4,4e-4,5e-4,6e-4,7e-4,8e-4,9e-4,2e-3,3e-3},
  tick align=inside, xtick pos=bottom, ytick pos=left,
  tick style={axisgray, line width=0.8pt},
  major tick length=12pt, minor tick length=6pt,
  xticklabel style={font=\fontsize{16}{16}\selectfont, /pgf/number format/assume math mode=true, /pgf/number format/set thousands separator={}},
  yticklabel style={font=\fontsize{16}{16}\selectfont},
  xlabel={PHA (ch)}, ylabel={Counts/sec/ch},
  label style={font=\fontsize{24}{24}\selectfont},
  xlabel style={at={(rel axis cs:0.536,-0.099)}, anchor=center},
  ylabel style={at={(rel axis cs:-0.09,0.527)}, anchor=center},
]
\addplot[errpts=black] table[x=ch,y=k]{\spec};
\addplot[errpts=black] table[x=ch,y=k]{\specb};
\addplot[errpts=red] table[x=ch,y=r]{\spec};
\addplot[errpts=red] table[x=ch,y=r]{\specb};
\addplot[errpts=blue] table[x=ch,y=b]{\spec};
\addplot[errpts=blue] table[x=ch,y=b]{\specb};
\addplot[errpts=dgreen] table[x=ch,y=g]{\spec};
\addplot[errpts=dgreen] table[x=ch,y=g]{\specb};
\node[anchor=base west, inner sep=0pt, font=\fontsize{24}{24}\selectfont] at (rel axis cs:0.607,0.9195) {COR (GV):};
\node[anchor=base west, inner sep=0pt, font=\fontsize{24}{24}\selectfont] at (rel axis cs:0.607,0.8428) {{\libsans <}8};
\node[anchor=base west, inner sep=0pt, font=\fontsize{24}{24}\selectfont, text=legred] at (rel axis cs:0.680,0.8428) {8--10};
\node[anchor=base west, inner sep=0pt, font=\fontsize{24}{24}\selectfont, text=legblue] at (rel axis cs:0.607,0.7624) {10--12};
\node[anchor=base west, inner sep=0pt, font=\fontsize{24}{24}\selectfont, text=leggreen] at (rel axis cs:0.7535,0.7624) {12--16};
\end{axis}
\path ([shift={(-76.5pt,-53.5pt)}]ax.south west) rectangle ([shift={(11pt,5pt)}]ax.north east);
\end{tikzpicture}
\end{document}
